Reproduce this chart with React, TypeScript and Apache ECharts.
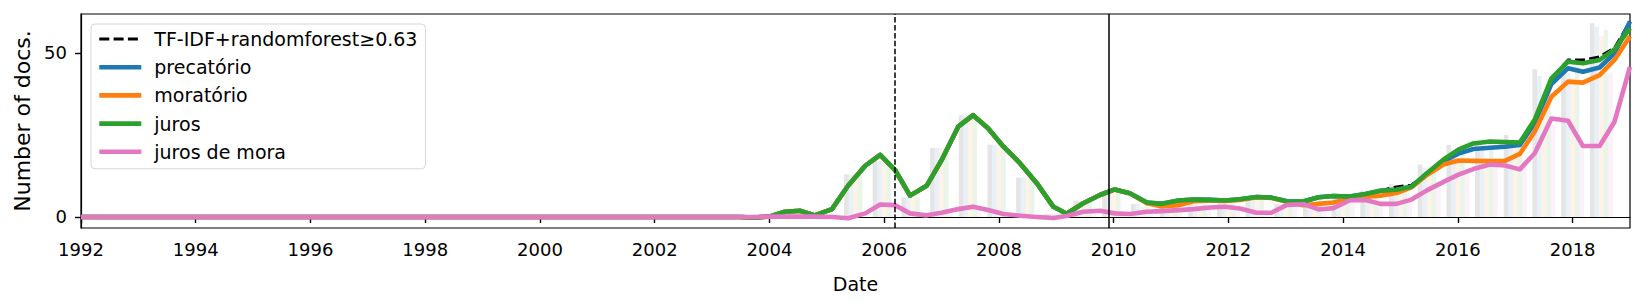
import React, { useEffect, useRef } from "react";
import * as echarts from "echarts";

// Line sample dates (decimal years)
const dates = [
  1992.0, 2003.48, 2003.74, 2004.01, 2004.27, 2004.53, 2004.79, 2005.09, 2005.37, 2005.67,
  2005.93, 2006.19, 2006.45, 2006.74, 2007.0, 2007.29, 2007.55, 2007.81, 2008.08, 2008.37,
  2008.66, 2008.95, 2009.18, 2009.47, 2009.76, 2010.02, 2010.28, 2010.58, 2010.84, 2011.13,
  2011.39, 2011.68, 2011.94, 2012.2, 2012.49, 2012.75, 2013.02, 2013.31, 2013.57, 2013.83,
  2014.12, 2014.39, 2014.65, 2014.93, 2015.19, 2015.46, 2015.75, 2016.01, 2016.27, 2016.56,
  2016.82, 2017.08, 2017.34, 2017.63, 2017.92, 2018.18, 2018.47, 2018.73, 2019.0,
];

const tfidf = [
  0, 0, -0.2, 0.2, 1.6, 1.9, 0.5, 2.4, 9.5, 15.6,
  18.9, 14.3, 6.5, 9.5, 17.3, 27.5, 31.0, 27.0, 21.4, 16.3,
  10.3, 3.1, 1.0, 4.2, 6.7, 8.4, 7.2, 4.4, 4.0, 5.0,
  5.3, 5.2, 5.0, 5.4, 6.1, 5.9, 4.8, 4.7, 6.0, 6.4,
  6.2, 7.0, 8.0, 9.2, 9.7, 13.3, 17.5, 20.5, 22.4, 23.0,
  22.8, 22.7, 29.7, 42.2, 47.8, 47.8, 48.8, 51.5, 59.5,
];
const precatorio = [
  0, 0, -0.2, 0.2, 1.6, 1.9, 0.5, 2.4, 9.5, 15.6,
  18.9, 14.3, 6.5, 9.5, 17.3, 27.5, 31.0, 27.0, 21.4, 16.3,
  10.3, 3.1, 1.0, 4.2, 6.7, 8.4, 7.2, 4.4, 4.0, 5.0,
  5.3, 5.2, 5.0, 5.4, 6.1, 5.9, 4.8, 4.7, 6.0, 6.4,
  6.2, 7.0, 8.0, 8.3, 9.2, 13.1, 17.0, 19.3, 20.7, 21.1,
  21.4, 21.9, 28.6, 40.5, 45.3, 44.2, 45.5, 49.8, 59.5,
];
const moratorio = [
  0, 0, -0.2, 0.2, 1.6, 1.9, 0.5, 2.4, 9.5, 15.6,
  18.9, 14.3, 6.5, 9.5, 17.3, 27.5, 31.0, 27.0, 21.4, 16.3,
  10.3, 3.1, 1.0, 4.2, 6.7, 8.4, 7.2, 4.2, 3.2, 3.6,
  4.8, 5.0, 4.9, 5.2, 6.0, 5.8, 4.6, 3.6, 4.0, 4.4,
  5.6, 6.2, 6.5, 7.3, 9.0, 12.8, 16.0, 17.2, 17.1, 17.0,
  17.1, 19.2, 26.0, 36.6, 41.2, 40.9, 43.2, 47.8, 55.0,
];
const juros = [
  0, 0, -0.2, 0.2, 1.6, 1.9, 0.5, 2.4, 9.5, 15.6,
  18.9, 14.3, 6.5, 9.5, 17.3, 27.5, 31.0, 27.0, 21.4, 16.3,
  10.3, 3.1, 1.0, 4.2, 6.7, 8.4, 7.2, 4.4, 4.0, 5.0,
  5.3, 5.2, 5.0, 5.4, 6.1, 5.9, 4.8, 4.7, 6.0, 6.4,
  6.2, 7.0, 8.0, 8.3, 9.2, 13.3, 17.5, 20.5, 22.4, 23.0,
  22.8, 22.7, 29.7, 42.2, 47.3, 46.8, 47.8, 51.0, 57.5,
];
const jurosDeMora = [
  0, 0, 0, 0.1, 0.1, 0.1, 0.1, 0.0, -0.4, 1.1,
  3.8, 3.6, 1.1, 0.5, 1.3, 2.4, 3.1, 2.1, 0.9, 0.4,
  0.0, -0.3, 0.3, 1.6, 1.9, 1.1, 0.9, 1.6, 1.8, 2.1,
  2.4, 2.9, 3.1, 2.6, 1.3, 1.3, 3.7, 3.9, 2.3, 2.7,
  5.1, 5.2, 4.0, 4.0, 5.3, 8.1, 10.7, 12.9, 14.6, 16.0,
  15.7, 14.5, 19.4, 30.0, 29.3, 21.6, 21.6, 29.0, 45.7,
];

// Half-yearly raw counts (faint bars)
const barDates = [
  2004.5, 2005.0, 2005.5, 2006.0, 2006.5, 2007.0, 2007.5, 2008.0, 2008.5, 2009.0,
  2009.5, 2010.0, 2010.5, 2011.0, 2011.5, 2012.0, 2012.5, 2013.0, 2013.5, 2014.0,
  2014.5, 2015.0, 2015.5, 2016.0, 2016.5, 2017.0, 2017.5, 2018.0, 2018.5,
];
const barTfidf = [2, 1, 13, 17, 6, 21, 31, 22, 12, 1, 5, 8, 4, 5, 5, 5, 6, 4, 6, 6, 8, 10, 16, 22, 22, 25, 45, 47, 59];
const barPrecatorio = [2, 1, 13, 17, 6, 21, 31, 22, 12, 1, 5, 8, 4, 5, 5, 5, 6, 4, 6, 6, 7, 9, 15, 20, 21, 23, 43, 44, 58];
const barMoratorio = [2, 1, 13, 17, 6, 21, 31, 22, 12, 1, 5, 8, 3, 4, 5, 5, 6, 4, 4, 5, 7, 9, 15, 17, 17, 21, 37, 41, 55];
const barJuros = [2, 1, 13, 17, 6, 21, 31, 22, 12, 1, 5, 8, 4, 5, 5, 5, 6, 4, 6, 6, 7, 9, 15, 22, 22, 24, 42, 46, 57];
const barJurosDeMora = [0, 0, 0, 4, 1, 1, 3, 1, 0, 0, 2, 1, 2, 2, 3, 3, 1, 4, 3, 5, 4, 5, 9, 13, 16, 16, 28, 22, 44];

const xTicks = [1992, 1994, 1996, 1998, 2000, 2002, 2004, 2006, 2008, 2010, 2012, 2014, 2016, 2018];
const yTicks = [0, 50];
const dashedCut = 2006.18;
const solidCut = 2009.91;

const names = ["TF-IDF+randomforest≥0.63", "precatório", "moratório", "juros", "juros de mora"];
const colors = ["#000000", "#1f77b4", "#ff7f0e", "#2ca02c", "#e377c2"];
const barColors = [
  "rgba(0,0,0,0.1)",
  "rgba(31,119,180,0.1)",
  "rgba(255,127,14,0.1)",
  "rgba(44,160,44,0.1)",
  "rgba(227,119,194,0.1)",
];

const FONT = "DejaVu Sans";
const LW = 4.6;

export default function App() {
  const ref = useRef<HTMLDivElement>(null);
  useEffect(() => {
    document.body.style.margin = "0";
    if (!ref.current) return;
    const chart = echarts.init(ref.current, undefined, { renderer: "svg" });
    const lineVals = [tfidf, precatorio, moratorio, juros, jurosDeMora];
    const barVals = [barTfidf, barPrecatorio, barMoratorio, barJuros, barJurosDeMora];

    const barSeries = barVals.map((vals, i) => ({
      type: "bar",
      name: "bar-" + i,
      data: barDates.map((d, j) => [d, vals[j]]),
      barWidth: 4.6,
      barGap: "0%",
      itemStyle: { color: barColors[i] },
      silent: true,
      z: 1,
    }));

    const lineSeries = lineVals.map((vals, i) => ({
      type: "line",
      name: names[i],
      data: dates.map((d, j) => [d, vals[j]]),
      symbol: "none",
      showSymbol: false,
      color: colors[i],
      lineStyle:
        i === 0
          ? { color: colors[i], width: 2.8, type: [10, 4.3], join: "round" }
          : { color: colors[i], width: LW, join: "round" },
      z: 3,
      ...(i === 0
        ? {
            markLine: {
              silent: true,
              symbol: "none",
              label: { show: false },
              data: [
                { xAxis: dashedCut, lineStyle: { color: "#000", width: 1.5, type: [5.5, 2.4] } },
                { xAxis: solidCut, lineStyle: { color: "#000", width: 1.5, type: "solid" } },
              ],
            },
          }
        : {}),
    }));

    chart.setOption({
      animation: false,
      textStyle: { fontFamily: FONT },
      grid: {
        left: 81,
        right: 15,
        top: 14,
        bottom: 76,
        show: true,
        borderColor: "#000",
        borderWidth: 1.2,
        backgroundColor: "transparent",
      },
      legend: {
        orient: "vertical",
        left: 91,
        top: 24,
        itemWidth: 42,
        itemHeight: 14,
        itemGap: 8.2,
        padding: [5, 8, 7, 6],
        borderColor: "#d6d6d6",
        borderWidth: 1,
        borderRadius: 4,
        backgroundColor: "rgba(255,255,255,0.8)",
        textStyle: { fontSize: 19, fontFamily: FONT, color: "#000", lineHeight: 20, padding: [0, 0, 0, 8] },
        data: names.map((n, i) => ({
          name: n,
          itemStyle: { color: "rgba(0,0,0,0)", borderWidth: 0, opacity: 0 },
          lineStyle: i === 0 ? { width: 2.8, type: [10, 4.3] } : { width: LW },
        })),
      },
      xAxis: {
        type: "value",
        min: 1992,
        max: 2019,
        name: "Date",
        nameLocation: "middle",
        nameGap: 46,
        nameTextStyle: { fontSize: 19, fontFamily: FONT, color: "#000" },
        axisLine: { show: true, lineStyle: { color: "#000", width: 1.2 } },
        axisTick: { show: true, length: 6, lineStyle: { color: "#000", width: 1.4 }, customValues: xTicks },
        axisLabel: {
          fontSize: 18,
          fontFamily: FONT,
          color: "#000",
          margin: 12,
          customValues: xTicks,
          formatter: (v: number) => String(v),
        },
        splitLine: { show: false },
      },
      yAxis: {
        type: "value",
        min: -3.35,
        max: 61.8,
        name: "Number of docs.",
        nameLocation: "middle",
        nameGap: 48,
        nameTextStyle: { fontSize: 22, fontFamily: FONT, color: "#000" },
        axisLine: { show: true, lineStyle: { color: "#000", width: 1.2 } },
        axisTick: { show: true, length: 6, lineStyle: { color: "#000", width: 1.4 }, customValues: yTicks },
        axisLabel: {
          fontSize: 18,
          fontFamily: FONT,
          color: "#000",
          margin: 14,
          customValues: yTicks,
          formatter: (v: number) => String(v),
        },
        splitLine: { show: false },
      },
      series: [...barSeries, ...lineSeries],
    });
    return () => chart.dispose();
  }, []);
  return <div ref={ref} style={{ width: 1645, height: 304 }} />;
}
